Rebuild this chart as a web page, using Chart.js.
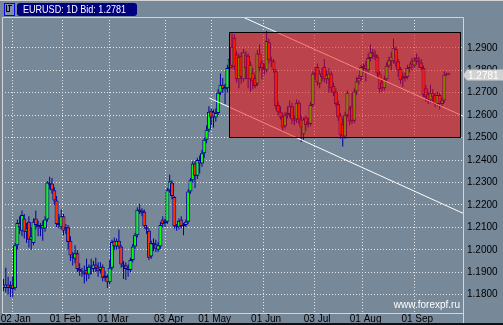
<!DOCTYPE html>
<html><head><meta charset="utf-8">
<script src="https://cdn.jsdelivr.net/npm/chart.js@4.4.0/dist/chart.umd.min.js"></script>
<style>html,body{margin:0;padding:0;background:#778899;overflow:hidden}canvas{display:block}</style>
</head><body>
<canvas id="c" width="503" height="325" style="width:503px;height:325px"></canvas>
<script>
const symbol = 'EURUSD', period = '1D', siteText = 'www.forexpf.ru';

const opens = [
1.1845,1.1830,1.1845,1.1830,1.1845,1.1830,1.2020,1.2120,1.2085,1.2140,
1.2080,1.2125,1.2045,1.2030,1.2140,1.2110,1.2100,1.2095,1.2095,1.2135,
1.2300,1.2295,1.2265,1.2220,1.2120,1.2100,1.2150,1.2090,1.2100,1.2040,
1.1970,1.1960,1.1985,1.1915,1.1905,1.1900,1.1910,1.1890,1.1925,1.1915,
1.1935,1.1920,1.1910,1.1925,1.1875,1.1880,1.1855,1.1920,1.2040,1.2015,
1.2040,1.2015,1.1935,1.1930,1.1915,1.1910,1.1955,1.2015,1.2065,1.2180,
1.2175,1.2170,1.2100,1.2085,1.1970,1.2030,1.2025,1.2000,1.2015,1.2135,
1.2130,1.2125,1.2265,1.2300,1.2235,1.2105,1.2100,1.2135,1.2110,1.2110,
1.2125,1.2260,1.2310,1.2385,1.2330,1.2400,1.2385,1.2430,1.2490,1.2535,
1.2620,1.2615,1.2590,1.2610,1.2700,1.2735,1.2715,1.2720,1.2810,1.2820,
1.2945,1.2870,1.2760,1.2865,1.2760,1.2870,1.2865,1.2760,1.2790,1.2765,
1.2740,1.2875,1.2835,1.2810,1.2800,1.2925,1.2845,1.2840,1.2795,1.2645,
1.2615,1.2595,1.2550,1.2600,1.2605,1.2640,1.2580,1.2580,1.2655,1.2580,
1.2515,1.2590,1.2560,1.2560,1.2645,1.2790,1.2815,1.2740,1.2785,1.2815,
1.2760,1.2760,1.2785,1.2730,1.2705,1.2650,1.2600,1.2560,1.2505,1.2600,
1.2630,1.2640,1.2575,1.2705,1.2750,1.2770,1.2815,1.2825,1.2800,1.2855,
1.2880,1.2870,1.2860,1.2785,1.2745,1.2720,1.2760,1.2820,1.2840,1.2840,
1.2895,1.2840,1.2805,1.2760,1.2775,1.2770,1.2810,1.2840,1.2820,1.2855,
1.2840,1.2835,1.2810,1.2720,1.2695,1.2665,1.2700,1.2690,1.2650,1.2690,
1.2650,1.2665,1.2780,1.2785];

const highs = [
1.1870,1.1920,1.1880,1.1860,1.1880,1.2030,1.2135,1.2150,1.2175,1.2160,
1.2120,1.2150,1.2100,1.2140,1.2175,1.2130,1.2120,1.2130,1.2150,1.2305,
1.2325,1.2320,1.2280,1.2240,1.2160,1.2180,1.2160,1.2115,1.2110,1.2060,
1.1990,1.2020,1.2000,1.1940,1.1920,1.1930,1.1960,1.1935,1.1960,1.1950,
1.1965,1.1945,1.1945,1.1935,1.1905,1.1890,1.1955,1.2045,1.2055,1.2050,
1.2090,1.2020,1.1950,1.1945,1.1935,1.1965,1.2025,1.2075,1.2190,1.2205,
1.2185,1.2180,1.2110,1.2095,1.2040,1.2050,1.2045,1.2035,1.2125,1.2150,
1.2140,1.2275,1.2335,1.2310,1.2240,1.2115,1.2140,1.2150,1.2120,1.2135,
1.2270,1.2320,1.2395,1.2395,1.2410,1.2420,1.2445,1.2500,1.2555,1.2640,
1.2630,1.2625,1.2630,1.2715,1.2785,1.2765,1.2740,1.2825,1.2870,1.2965,
1.2960,1.2885,1.2875,1.2880,1.2895,1.2885,1.2875,1.2840,1.2810,1.2780,
1.2890,1.2915,1.2845,1.2830,1.2975,1.2940,1.2860,1.2850,1.2805,1.2660,
1.2640,1.2610,1.2615,1.2640,1.2665,1.2655,1.2600,1.2670,1.2665,1.2600,
1.2590,1.2600,1.2590,1.2660,1.2795,1.2815,1.2830,1.2800,1.2810,1.2850,
1.2800,1.2810,1.2795,1.2745,1.2720,1.2665,1.2610,1.2590,1.2615,1.2710,
1.2640,1.2700,1.2720,1.2770,1.2780,1.2825,1.2830,1.2840,1.2875,1.2915,
1.2895,1.2890,1.2870,1.2795,1.2760,1.2775,1.2835,1.2860,1.2880,1.2940,
1.2905,1.2850,1.2815,1.2790,1.2790,1.2825,1.2830,1.2855,1.2860,1.2875,
1.2860,1.2850,1.2820,1.2735,1.2705,1.2735,1.2715,1.2700,1.2705,1.2700,
1.2680,1.2795,1.2790,1.2790];

const lows = [
1.1815,1.1810,1.1800,1.1790,1.1790,1.1820,1.2000,1.2070,1.2060,1.2050,
1.2030,1.2010,1.2000,1.2020,1.2090,1.2060,1.2060,1.2040,1.2080,1.2125,
1.2270,1.2250,1.2200,1.2100,1.2095,1.2090,1.2065,1.2070,1.2000,1.1950,
1.1930,1.1940,1.1900,1.1885,1.1880,1.1850,1.1860,1.1870,1.1890,1.1900,
1.1900,1.1880,1.1895,1.1860,1.1860,1.1830,1.1845,1.1910,1.2000,1.2000,
1.2005,1.1920,1.1870,1.1865,1.1880,1.1900,1.1945,1.2005,1.2055,1.2160,
1.2150,1.2095,1.2070,1.1955,1.1960,1.1995,1.1990,1.1990,1.2005,1.2100,
1.2100,1.2115,1.2255,1.2225,1.2095,1.2085,1.2090,1.2095,1.2065,1.2100,
1.2115,1.2250,1.2300,1.2275,1.2315,1.2340,1.2370,1.2410,1.2475,1.2525,
1.2555,1.2545,1.2570,1.2600,1.2690,1.2700,1.2650,1.2700,1.2790,1.2805,
1.2800,1.2745,1.2720,1.2740,1.2750,1.2760,1.2720,1.2705,1.2715,1.2720,
1.2730,1.2795,1.2760,1.2780,1.2790,1.2830,1.2815,1.2790,1.2625,1.2600,
1.2580,1.2530,1.2540,1.2585,1.2590,1.2560,1.2555,1.2565,1.2560,1.2480,
1.2490,1.2530,1.2545,1.2550,1.2635,1.2755,1.2730,1.2720,1.2750,1.2745,
1.2740,1.2700,1.2700,1.2685,1.2640,1.2575,1.2495,1.2460,1.2495,1.2590,
1.2555,1.2560,1.2565,1.2690,1.2735,1.2755,1.2790,1.2750,1.2790,1.2840,
1.2850,1.2845,1.2770,1.2700,1.2705,1.2710,1.2750,1.2810,1.2800,1.2830,
1.2815,1.2770,1.2740,1.2725,1.2750,1.2760,1.2790,1.2800,1.2810,1.2825,
1.2810,1.2800,1.2680,1.2660,1.2650,1.2655,1.2660,1.2635,1.2640,1.2625,
1.2640,1.2655,1.2775,1.2778];

const closes = [
1.1830,1.1845,1.1830,1.1840,1.1825,1.2020,1.2120,1.2100,1.2155,1.2080,
1.2095,1.2045,1.2060,1.2125,1.2110,1.2100,1.2095,1.2110,1.2135,1.2300,
1.2290,1.2265,1.2220,1.2115,1.2110,1.2150,1.2085,1.2100,1.2035,1.1975,
1.1965,1.1985,1.1915,1.1905,1.1900,1.1890,1.1890,1.1925,1.1930,1.1935,
1.1920,1.1905,1.1925,1.1875,1.1885,1.1855,1.1920,1.2035,1.2015,1.2040,
1.2015,1.1935,1.1925,1.1915,1.1910,1.1955,1.2015,1.2065,1.2178,1.2170,
1.2165,1.2105,1.2090,1.1965,1.2030,1.2020,1.2005,1.2020,1.2110,1.2115,
1.2120,1.2265,1.2305,1.2240,1.2105,1.2100,1.2130,1.2105,1.2105,1.2125,
1.2260,1.2310,1.2385,1.2330,1.2400,1.2385,1.2430,1.2490,1.2535,1.2615,
1.2590,1.2590,1.2610,1.2700,1.2735,1.2715,1.2725,1.2810,1.2850,1.2905,
1.2815,1.2760,1.2860,1.2770,1.2880,1.2810,1.2760,1.2825,1.2750,1.2730,
1.2875,1.2810,1.2810,1.2800,1.2930,1.2845,1.2840,1.2800,1.2640,1.2615,
1.2590,1.2545,1.2600,1.2610,1.2640,1.2580,1.2575,1.2655,1.2580,1.2545,
1.2580,1.2555,1.2570,1.2645,1.2785,1.2780,1.2745,1.2785,1.2770,1.2760,
1.2780,1.2785,1.2720,1.2700,1.2650,1.2590,1.2510,1.2505,1.2600,1.2700,
1.2572,1.2575,1.2705,1.2750,1.2765,1.2815,1.2820,1.2805,1.2855,1.2880,
1.2870,1.2860,1.2785,1.2715,1.2720,1.2760,1.2820,1.2845,1.2860,1.2900,
1.2830,1.2800,1.2755,1.2770,1.2765,1.2810,1.2815,1.2825,1.2845,1.2840,
1.2835,1.2810,1.2690,1.2680,1.2670,1.2700,1.2680,1.2650,1.2690,1.2650,
1.2665,1.2780,1.2785,1.2781];

const yTicks = [1.18,1.19,1.20,1.21,1.22,1.23,1.24,1.25,1.26,1.27,1.28,1.29];
const yRange = [1.17185, 1.30372];
const xRange = [-0.65, 199.1];
const xTickIdx = [4, 25.5, 46.1, 70.3, 90.2, 112.5, 134.6, 155.6, 178];
const xTickLabels = ['02 Jan','01 Feb','01 Mar','03 Apr','01 May','01 Jun','03 Jul','01 Aug','01 Sep'];

const boxIdx = [97.8, 197.8];
const boxPrice = [1.2972, 1.2502];
const upperLineIdx = [100, 199.5];
const upperLinePrice = [1.3054, 1.2594];
const lowerLineIdx = [89.2, 199.5];
const lowerLinePrice = [1.2676, 1.2161];

const BG = '#778899';
const FONT = 'Liberation Sans, Arial, sans-serif';
const OUTLINE = '#00009c';

const idx = closes.map((_, i) => i);
const bodyData = idx.map(i => ({x: i, y: [opens[i], closes[i]]}));
const wickData = idx.map(i => ({x: i, y: [lows[i], highs[i]]}));
const bodyColors = idx.map(i => closes[i] >= opens[i] ? '#00ff00' : '#ff3000');

const deco = {
  id: 'deco',
  beforeDraw(c) {
    const g = c.ctx;
    g.save(); g.fillStyle = BG; g.fillRect(0, 0, c.width, c.height); g.restore();
  },
  afterDatasetsDraw(c) {
    const g = c.ctx, xs = c.scales.x, ys = c.scales.y, a = c.chartArea;
    const L = Math.round(xs.getPixelForValue(boxIdx[0])) + 0.5;
    const R = Math.round(xs.getPixelForValue(boxIdx[1])) + 0.5;
    const T = Math.round(ys.getPixelForValue(boxPrice[0])) + 0.5;
    const B = Math.round(ys.getPixelForValue(boxPrice[1])) + 0.5;
    g.save();
    g.beginPath(); g.rect(a.left, a.top, a.right - a.left, a.bottom - a.top); g.clip();
    g.fillStyle = 'rgba(255,0,0,0.5)';
    g.fillRect(L, T, R - L, B - T);
    g.strokeStyle = '#000'; g.lineWidth = 1;
    g.strokeRect(L, T, R - L, B - T);
    g.restore();
  },
  afterDraw(c) {
    const g = c.ctx, ys = c.scales.y, a = c.chartArea;
    g.save();
    // frame lines
    g.strokeStyle = '#d4d4d4'; g.lineWidth = 1;
    g.beginPath();
    g.moveTo(a.left + 0.5, a.top + 0.5); g.lineTo(a.right + 0.5, a.top + 0.5);
    g.moveTo(a.left + 0.5, a.top + 0.5); g.lineTo(a.left + 0.5, a.bottom + 0.5);
    g.moveTo(a.left + 0.5, a.bottom + 0.5); g.lineTo(a.right + 0.5, a.bottom + 0.5);
    g.moveTo(a.right + 0.5, a.top + 0.5); g.lineTo(a.right + 0.5, c.height - 2);
    g.moveTo(0, 0.5); g.lineTo(c.width, 0.5);
    g.stroke();
    g.fillStyle = '#101010'; g.fillRect(0, c.height - 2, c.width, 2);

    // last price marker
    const last = closes[closes.length - 1];
    const py = Math.round(ys.getPixelForValue(last));
    g.fillStyle = '#d2d2d2';
    g.beginPath();
    g.moveTo(a.right, py + 0.5);
    g.lineTo(a.right + 4, py - 5.5);
    g.lineTo(c.width, py - 5.5);
    g.lineTo(c.width, py + 5.5);
    g.lineTo(a.right + 4, py + 5.5);
    g.closePath(); g.fill();
    g.fillStyle = '#ffffff';
    g.font = '10px ' + FONT;
    g.textBaseline = 'middle'; g.textAlign = 'left';
    g.fillText(last.toFixed(4), a.right + 5, py + 1);

    // header icon
    g.fillStyle = '#8090a4'; g.fillRect(4, 3, 10, 12);
    g.strokeStyle = '#0000ff'; g.strokeRect(4.5, 3.5, 10, 12);
    g.strokeStyle = '#000'; g.beginPath();
    g.moveTo(6.5, 5); g.lineTo(6.5, 11.5); g.lineTo(9.5, 11.5); g.lineTo(9.5, 6);
    g.moveTo(8, 5.5); g.lineTo(12, 5.5);
    g.stroke();

    // header label
    g.fillStyle = '#000080';
    g.beginPath();
    if (g.roundRect) g.roundRect(17, 3, 120, 13, 3); else g.rect(17, 3, 120, 13);
    g.fill();
    const title = symbol + ': ' + period + ' Bid: ' + last.toFixed(4);
    g.font = '11px ' + FONT;
    const w = g.measureText(title).width;
    g.save();
    g.translate(23, 10);
    g.scale(103 / w, 1);
    g.fillStyle = '#ffffff'; g.textBaseline = 'middle';
    g.fillText(title, 0, 0);
    g.restore();

    // watermark
    g.fillStyle = '#ffffff';
    g.font = '10px ' + FONT;
    g.textBaseline = 'alphabetic'; g.textAlign = 'right';
    g.fillText(siteText, a.right - 3, a.bottom - 5);
    g.restore();
  }
};

const gridColor = 'rgba(235,235,235,0.95)';

new Chart(document.getElementById('c'), {
  type: 'bar',
  data: {
    datasets: [
      {type: 'line', data: upperLineIdx.map((v, i) => ({x: v, y: upperLinePrice[i]})),
       borderColor: '#ffffff', borderWidth: 1, pointRadius: 0, tension: 0, order: 0},
      {type: 'line', data: lowerLineIdx.map((v, i) => ({x: v, y: lowerLinePrice[i]})),
       borderColor: '#ffffff', borderWidth: 1, pointRadius: 0, tension: 0, order: 0},
      {data: bodyData, backgroundColor: bodyColors, borderColor: OUTLINE, borderWidth: 1,
       borderSkipped: false, barThickness: 4, grouped: false, inflateAmount: 0, order: 1},
      {data: wickData, backgroundColor: OUTLINE, borderWidth: 0,
       barThickness: 1, grouped: false, inflateAmount: 0, order: 2}
    ]
  },
  options: {
    responsive: false, animation: false, events: [],
    layout: {padding: {left: 2, top: 17, right: 0, bottom: 0}},
    plugins: {legend: {display: false}, tooltip: {enabled: false}},
    scales: {
      x: {
        type: 'linear', min: xRange[0], max: xRange[1], offset: false,
        grid: {color: gridColor, drawTicks: false, offset: false},
        border: {display: false, dash: [1, 2]},
        ticks: {autoSkip: false, maxRotation: 0, color: '#000', padding: 0, labelOffset: 3,
                font: {family: FONT, size: 10},
                callback: (v, i) => xTickLabels[i]},
        afterBuildTicks: s => { s.ticks = xTickIdx.map(v => ({value: v})); },
        afterFit: s => { s.height = 12; s.paddingLeft = 0; s.paddingRight = 0; }
      },
      y: {
        position: 'right', min: yRange[0], max: yRange[1],
        grid: {color: gridColor, drawTicks: false},
        border: {display: false, dash: [1, 2]},
        ticks: {color: '#000', padding: 4, font: {family: FONT, size: 10},
                callback: v => v.toFixed(4)},
        afterBuildTicks: s => { s.ticks = yTicks.map(v => ({value: v})); },
        afterFit: s => { s.width = 40; s.paddingTop = 0; s.paddingBottom = 0; }
      }
    }
  },
  plugins: [deco]
});
</script>
</body></html>
